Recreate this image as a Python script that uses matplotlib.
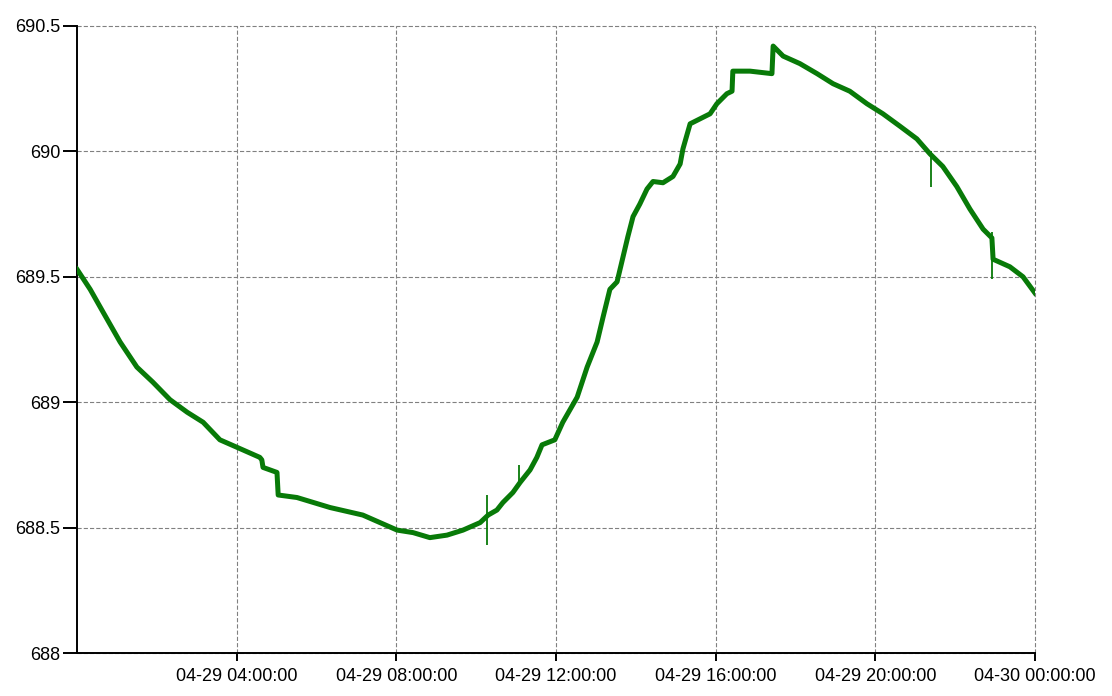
import datetime as dt
import matplotlib
matplotlib.use("Agg")
import matplotlib.pyplot as plt
import matplotlib.dates as mdates

# Readings (hours after 04-29 00:00, value)
hours = [0.00, 0.33, 0.65, 1.08, 1.50, 1.90, 2.33, 2.76, 3.16, 3.58, 4.01, 4.58, 4.63,
         4.66, 5.01, 5.04, 5.51, 6.34, 7.16, 7.59, 8.02, 8.42, 8.84, 9.27, 9.67, 10.10,
         10.30, 10.52, 10.67, 10.92, 11.10, 11.35, 11.52, 11.65, 11.97, 12.17, 12.35,
         12.53, 12.78, 13.03, 13.18, 13.35, 13.53, 13.68, 13.80, 13.93, 14.10, 14.28,
         14.43, 14.68, 14.93, 15.11, 15.18, 15.36, 15.61, 15.86, 16.03, 16.28, 16.41,
         16.43, 16.86, 17.41, 17.44, 17.69, 18.11, 18.54, 18.94, 19.36, 19.79, 20.19,
         20.62, 21.04, 21.37, 21.69, 22.04, 22.37, 22.70, 22.92, 22.95, 23.37, 23.70, 24.00]
values = [689.53, 689.45, 689.36, 689.24, 689.14, 689.08, 689.01, 688.96, 688.92, 688.85,
          688.82, 688.78, 688.77, 688.74, 688.72, 688.63, 688.62, 688.58, 688.55, 688.52,
          688.49, 688.48, 688.46, 688.47, 688.49, 688.52, 688.55, 688.57, 688.60, 688.64,
          688.68, 688.73, 688.78, 688.83, 688.85, 688.92, 688.97, 689.02, 689.14, 689.24,
          689.34, 689.45, 689.48, 689.58, 689.66, 689.74, 689.79, 689.85, 689.88, 689.875,
          689.90, 689.95, 690.01, 690.11, 690.13, 690.15, 690.19, 690.23, 690.24, 690.32,
          690.32, 690.31, 690.42, 690.38, 690.35, 690.31, 690.27, 690.24, 690.19, 690.15,
          690.10, 690.05, 689.99, 689.94, 689.86, 689.77, 689.69, 689.655, 689.57, 689.54,
          689.50, 689.435]

# Isolated spikes (hour, low, high)
spike_hours = [10.28, 11.07, 21.39, 22.93]
spike_low = [688.43, 688.66, 689.86, 689.49]
spike_high = [688.63, 688.75, 690.00, 689.68]

y_ticks = [688, 688.5, 689, 689.5, 690, 690.5]
x_tick_hours = [4, 8, 12, 16, 20, 24]

base = dt.datetime(2024, 4, 29)
to_dt = lambda h: base + dt.timedelta(hours=h)

plt.rcParams['font.family'] = ['Liberation Sans', 'DejaVu Sans']
plt.rcParams['lines.scale_dashes'] = False

fig = plt.figure(figsize=(11.12, 6.96), dpi=100)
ax = fig.add_axes([77 / 1112, 43 / 696, 958 / 1112, 627 / 696])

green = '#087a08'
ax.plot([to_dt(h) for h in hours], values, color=green, lw=3.6, solid_joinstyle='round', zorder=3)
ax.vlines([to_dt(h) for h in spike_hours], spike_low, spike_high, color=green, lw=1.3, zorder=3)

ax.set_xlim(to_dt(0), to_dt(24))
ax.set_ylim(688, 690.5)
ax.set_yticks(y_ticks)
ax.set_yticklabels([f"{v:g}" for v in y_ticks])
ax.set_xticks([to_dt(h) for h in x_tick_hours])
ax.xaxis.set_major_formatter(mdates.DateFormatter('%m-%d %H:%M:%S'))

for s in ['top', 'right']:
    ax.spines[s].set_visible(False)
for s in ['left', 'bottom']:
    ax.spines[s].set_linewidth(1.4)
    ax.spines[s].set_color('black')

ax.tick_params(axis='y', direction='out', length=10, width=1.4, pad=2, labelsize=13)
ax.tick_params(axis='x', direction='out', length=6, width=1.4, pad=5, labelsize=13)

grid_style = dict(color='#808080', linestyle=(0, (3, 1.5)), linewidth=0.8)
ax.grid(True, **grid_style)
for gl in ax.get_xgridlines() + ax.get_ygridlines():
    gl.set_clip_on(False)

fig.savefig('out.png', dpi=100)
